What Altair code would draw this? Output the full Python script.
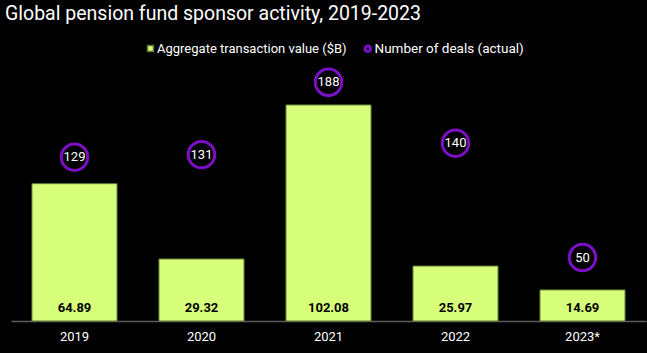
import altair as alt
import pandas as pd

years = ["2019", "2020", "2021", "2022", "2023*"]
values = [64.89, 29.32, 102.08, 25.97, 14.69]
deals = [129, 131, 188, 140, 50]
value_series = "Aggregate transaction value ($B)"
deal_series = "Number of deals (actual)"

FONT = "Roboto, sans-serif"
GREEN = "#D8FF7A"
PURPLE = "#7A10C4"

df = pd.DataFrame({
    "year": years,
    "value": values,
    "deals": deals,
    "vs": [value_series] * len(years),
    "ds": [deal_series] * len(years),
})

x = alt.X("year:N", sort=years, title=None,
          scale=alt.Scale(paddingInner=0.33, paddingOuter=0.165),
          axis=alt.Axis(labelAngle=0, labelColor="white", labelFont=FONT,
                        labelFontSize=13, labelPadding=9, ticks=False,
                        domainColor="#5c5c5c", domainWidth=1.5, grid=False))

y1 = alt.Y("value:Q", scale=alt.Scale(domain=[0, 120]), axis=None)
y2 = alt.Y("deals:Q", scale=alt.Scale(domain=[0, 200]), axis=None)

base = alt.Chart(df)

bars = base.mark_bar(stroke="#5b7a34", strokeWidth=1).encode(
    x=x, y=y1,
    color=alt.Color("vs:N", scale=alt.Scale(domain=[value_series], range=[GREEN]),
                    legend=alt.Legend(title=None, orient="none", legendX=133, legendY=-25,
                                      symbolType="square", symbolSize=36,
                                      labelColor="white", labelFont=FONT, labelFontSize=13,
                                      labelOffset=0, labelLimit=300)),
)
bar_labels = base.mark_text(color="black", font=FONT, fontSize=13, fontWeight="bold",
                            baseline="middle", dy=-13).encode(
    x=x, y=alt.datum(0), text=alt.Text("value:Q", format=".2f"))

points = base.mark_point(filled=False, fill="black", fillOpacity=1, size=700,
                         strokeWidth=3, opacity=1).encode(
    x=x, y=y2,
    stroke=alt.Stroke("ds:N", scale=alt.Scale(domain=[deal_series], range=[PURPLE]),
                      legend=alt.Legend(title=None, orient="none", legendX=350, legendY=-25,
                                        symbolType="circle", symbolSize=30, symbolStrokeWidth=3,
                                        symbolFillColor="black",
                                        labelColor="white", labelFont=FONT, labelFontSize=13.5,
                                        labelOffset=0, labelLimit=300)),
)
point_labels = base.mark_text(color="white", font=FONT, fontSize=13, baseline="middle").encode(
    x=x, y=y2, text="deals:Q")

left = alt.layer(bars, bar_labels)
right = alt.layer(points, point_labels)

chart = alt.layer(left, right).resolve_scale(y="independent").properties(
    width=635, height=254,
    autosize=alt.AutoSizeParams(type="none"),
    padding={"left": 11, "top": 67, "right": 1, "bottom": 32},
    background="black",
    title=alt.TitleParams("Global pension fund sponsor activity, 2019-2023", anchor="start",
                          color="white", font=FONT, fontSize=19.5, fontWeight="normal",
                          baseline="alphabetic", offset=3, dx=-6),
).configure_view(stroke=None)

chart.save("out.html", embed_options={"renderer": "svg", "actions": False})
